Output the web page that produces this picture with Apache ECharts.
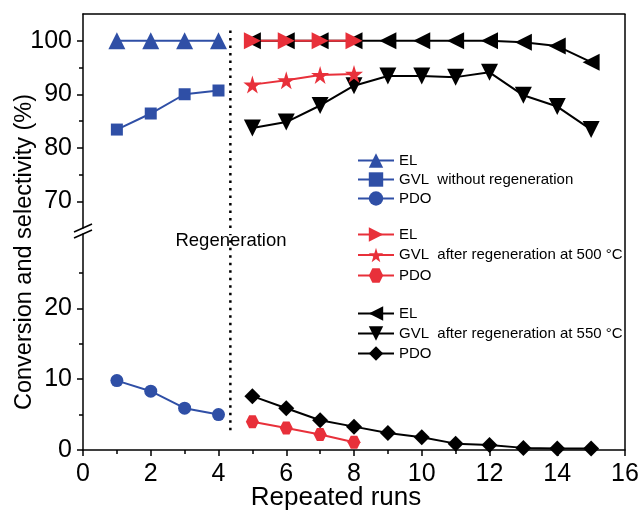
<!DOCTYPE html>
<html><head><meta charset="utf-8">
<script src="https://cdn.jsdelivr.net/npm/echarts@6/dist/echarts.min.js"></script>
<style>html,body{margin:0;padding:0;background:#fff}#c{width:642px;height:514px}</style>
</head><body><div id="c"></div>
<script>
// ---- data ----
const runsA = [1, 2, 3, 4];
const runsB = [5, 6, 7, 8];
const runsC = [5, 6, 7, 8, 9, 10, 11, 12, 13, 14, 15];
const elA  = [100, 100, 100, 100];
const gvlA = [83.4, 86.4, 90.0, 90.7];
const pdoA = [9.8, 8.3, 5.9, 5.0];
const elB  = [100, 100, 100, 100];
const gvlB = [91.8, 92.6, 93.6, 93.8];
const pdoB = [4.0, 3.1, 2.2, 1.1];
const elC  = [100, 100, 100, 100, 100, 100, 100, 100, 99.7, 99.0, 96.0];
const gvlC = [83.7, 84.8, 87.9, 91.6, 93.4, 93.4, 93.2, 94.1, 89.8, 87.7, 83.4];
const pdoC = [7.6, 5.9, 4.2, 3.3, 2.4, 1.8, 0.9, 0.7, 0.3, 0.2, 0.2];
const regenX = 4.35;
const regenUpper = [65, 102.2];
const regenLower = [2.8, 30.5];
const upperLabels = [70, 80, 90, 100];
const upperMinor = [75, 85, 95];
const lowerLabels = [0, 10, 20];
const lowerMinor = [5, 15, 25];
const legendA = ['EL', 'GVL  without regeneration', 'PDO'];
const legendB = ['EL ', 'GVL  after regeneration at 500 °C', 'PDO '];
const legendC = ['EL  ', 'GVL  after regeneration at 550 °C', 'PDO  '];

// ---- layout ----
const FONT = '"Liberation Sans", Arial, sans-serif';
const L = 83, R = 17, T = 14, UH = 214, LT = 234, LH = 216;
const W = 642;
const BLUE = '#2f4fa6', RED = '#e8303a', BLACK = '#000';
const STAR = 'path://M50,0 L61,35 L98,35 L68,57 L79,91 L50,70 L21,91 L32,57 L2,35 L39,35 Z';
const HEX = 'path://M25,0 L75,0 L100,43.3 L75,86.6 L25,86.6 L0,43.3 Z';

const pairs = (xs, ys) => xs.map((x, i) => [x, ys[i]]);

function mk(name, grid, xs, ys, color, symbol, size, rot) {
  return {
    name, type: 'line', xAxisIndex: grid, yAxisIndex: grid === 0 ? 0 : 2,
    data: pairs(xs, ys), symbol, symbolSize: size, symbolRotate: rot || 0,
    lineStyle: { color, width: 2 }, itemStyle: { color },
    showSymbol: true, clip: false, z: 3
  };
}

const chart = echarts.init(document.getElementById('c'), null, { renderer: 'canvas' });

const axisLineStyle = { color: '#000', width: 1.5 };
const labelStyle = { color: '#000', fontSize: 25, fontFamily: FONT };
const legendCommon = {
  orient: 'vertical', left: 357, itemWidth: 36, itemHeight: 18,
  selectedMode: false, textStyle: { fontSize: 15, fontFamily: FONT, color: '#000' },
  padding: 0
};

chart.setOption({
  animation: false,
  backgroundColor: '#fff',
  grid: [
    { left: L, right: R, top: T, height: UH },
    { left: L, right: R, top: LT, height: LH }
  ],
  xAxis: [
    { type: 'value', gridIndex: 0, min: 0, max: 16, interval: 2, position: 'top',
      axisLine: { show: true, lineStyle: axisLineStyle }, axisTick: { show: false },
      axisLabel: { show: false }, splitLine: { show: false } },
    { type: 'value', gridIndex: 1, min: 0, max: 16, interval: 2, position: 'bottom',
      axisLine: { show: true, lineStyle: axisLineStyle },
      axisTick: { show: true, length: 6, lineStyle: { color: '#000', width: 1.5 } },
      minorTick: { show: true, splitNumber: 2, length: 4, lineStyle: { color: '#000', width: 1.5 } },
      axisLabel: Object.assign({ margin: 12 }, labelStyle), splitLine: { show: false } }
  ],
  yAxis: [
    { type: 'value', gridIndex: 0, min: 65, max: 105, position: 'left',
      axisLine: { show: true, onZero: false, lineStyle: axisLineStyle },
      axisTick: { show: true, length: 6, customValues: upperLabels, lineStyle: { color: '#000', width: 1.5 } },
      axisLabel: Object.assign({ margin: 11, customValues: upperLabels }, labelStyle),
      splitLine: { show: false } },
    { type: 'value', gridIndex: 0, min: 65, max: 105, position: 'left',
      axisLine: { show: false },
      axisTick: { show: true, length: 4, customValues: upperMinor, lineStyle: { color: '#000', width: 1.5 } },
      axisLabel: { show: false }, splitLine: { show: false } },
    { type: 'value', gridIndex: 1, min: 0, max: 30.5, position: 'left',
      axisLine: { show: true, onZero: false, lineStyle: axisLineStyle },
      axisTick: { show: true, length: 6, customValues: lowerLabels, lineStyle: { color: '#000', width: 1.5 } },
      axisLabel: Object.assign({ margin: 11, customValues: lowerLabels }, labelStyle),
      splitLine: { show: false } },
    { type: 'value', gridIndex: 1, min: 0, max: 30.5, position: 'left',
      axisLine: { show: false },
      axisTick: { show: true, length: 4, customValues: lowerMinor, lineStyle: { color: '#000', width: 1.5 } },
      axisLabel: { show: false }, splitLine: { show: false } }
  ],
  legend: [
    Object.assign({ top: 153, itemGap: 4, data: legendA }, legendCommon),
    Object.assign({ top: 227, itemGap: 5.5, data: legendB }, legendCommon),
    Object.assign({ top: 306, itemGap: 5, data: legendC }, legendCommon)
  ],
  series: [
    { name: 'regenU', type: 'line', xAxisIndex: 0, yAxisIndex: 0, symbol: 'none', z: 1,
      data: regenUpper.map(v => [regenX, v]),
      lineStyle: { color: '#000', width: 2.5, type: [2.5, 5] } },
    { name: 'regenL', type: 'line', xAxisIndex: 1, yAxisIndex: 2, symbol: 'none', z: 1,
      data: regenLower.map(v => [regenX, v]),
      lineStyle: { color: '#000', width: 2.5, type: [2.5, 5] } },
    mk(legendC[0], 0, runsC, elC, BLACK, 'triangle', 17, 90),
    mk(legendC[1], 0, runsC, gvlC, BLACK, 'triangle', 17, 180),
    mk(legendC[2], 1, runsC, pdoC, BLACK, 'diamond', 16),
    mk(legendA[0], 0, runsA, elA, BLUE, 'triangle', 17),
    mk(legendA[1], 0, runsA, gvlA, BLUE, 'rect', 12),
    mk(legendA[2], 1, runsA, pdoA, BLUE, 'circle', 13),
    mk(legendB[0], 0, runsB, elB, RED, 'triangle', 17, -90),
    mk(legendB[1], 0, runsB, gvlB, RED, STAR, 18),
    mk(legendB[2], 1, runsB, pdoB, RED, HEX, 13)
  ],
  graphic: [
    // right border
    { type: 'line', shape: { x1: W - R, y1: T, x2: W - R, y2: LT + LH }, style: { stroke: '#000', lineWidth: 1.5 }, silent: true },
    // axis break marks
    { type: 'line', shape: { x1: L - 9, y1: T + UH + 4, x2: L + 9, y2: T + UH - 4 }, style: { stroke: '#000', lineWidth: 1.5 }, silent: true },
    { type: 'line', shape: { x1: L - 9, y1: LT + 4, x2: L + 9, y2: LT - 4 }, style: { stroke: '#000', lineWidth: 1.5 }, silent: true },
    // axis titles
    { type: 'text', x: 25, y: 252, rotation: Math.PI / 2,
      style: { text: 'Conversion and selectivity (%)', font: '23.5px ' + FONT, fill: '#000', align: 'center', verticalAlign: 'middle' } },
    { type: 'text', x: 336, y: 498,
      style: { text: 'Repeated runs', font: '26px ' + FONT, fill: '#000', align: 'center', verticalAlign: 'middle' } },
    { type: 'text', x: 231, y: 241, z: 5,
      style: { text: 'Regeneration', font: '18.5px ' + FONT, fill: '#000', align: 'center', verticalAlign: 'middle' } }
  ]
});
</script></body></html>
